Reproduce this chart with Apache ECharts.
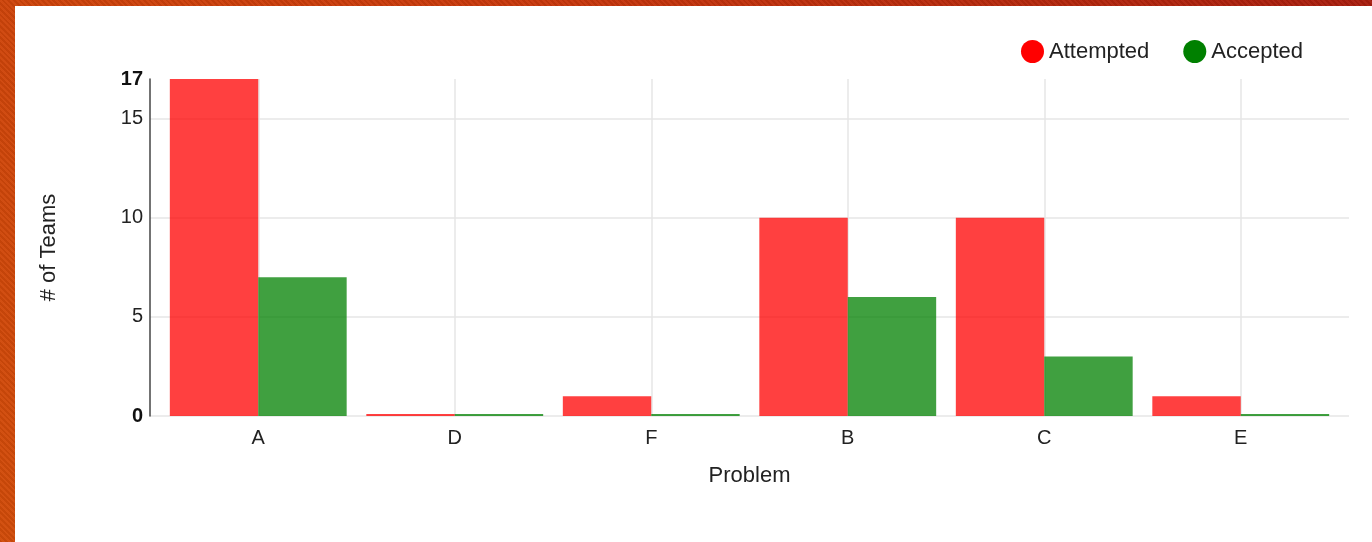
<!DOCTYPE html>
<html>
<head>
<meta charset="utf-8">
<script src="https://cdn.jsdelivr.net/npm/echarts@6/dist/echarts.min.js"></script>
<style>
html,body{margin:0;padding:0;}
body{width:1372px;height:542px;overflow:hidden;position:relative;
  background:linear-gradient(60deg,#d24c0a 0%,#c8380c 50%,#a81d0e 100%);}
body::before{content:"";position:absolute;left:0;top:0;width:100%;height:100%;
  background:repeating-linear-gradient(45deg,rgba(0,0,0,0.06) 0 2px,rgba(255,255,255,0.03) 2px 4px);}
#wrap{position:absolute;left:15px;top:6px;right:0;bottom:0;background:#fff;}
#chart{position:absolute;left:-15px;top:-6px;width:1372px;height:542px;}
</style>
</head>
<body>
<div id="wrap"><div id="chart"></div></div>
<script>
const categories = ['A', 'D', 'F', 'B', 'C', 'E'];
const attempted = [17, 0, 1, 10, 10, 1];
const accepted = [7, 0, 0, 6, 3, 0];
const yTicks = [0, 5, 10, 15, 17];

const font = 'Liberation Sans, Arial, sans-serif';
const chart = echarts.init(document.getElementById('chart'), null, {renderer: 'canvas'});
const gridLineColor = '#e6e6e6';

chart.setOption({
  animation: false,
  legend: {
    right: 64, top: 35,
    icon: 'circle', itemWidth: 23, itemHeight: 23, itemGap: 34,
    textStyle: {fontFamily: font, fontSize: 22, color: '#222'},
    data: [
      {name: 'Attempted', itemStyle: {color: '#ff0000'}},
      {name: 'Accepted', itemStyle: {color: '#008000'}}
    ]
  },
  grid: [
    {left: 150, right: 23, top: 79, bottom: 126},
    {left: 160, right: 33, top: 79, bottom: 126}
  ],
  xAxis: [
    {gridIndex: 0, type: 'value', min: 0, max: 1, show: false},
    {gridIndex: 1, type: 'category', data: categories, boundaryGap: true,
     axisLine: {show: false}, axisTick: {show: false}, splitLine: {show: false},
     axisLabel: {fontFamily: font, fontSize: 20, color: '#222', margin: 12},
     name: 'Problem', nameLocation: 'middle', nameGap: 49,
     nameTextStyle: {fontFamily: font, fontSize: 22, color: '#222'}}
  ],
  yAxis: [
    {gridIndex: 0, type: 'value', min: 0, max: 17, interval: 5,
     axisLine: {show: true, lineStyle: {color: '#444', width: 1.5}},
     axisTick: {show: false},
     splitLine: {show: true, lineStyle: {color: [gridLineColor, gridLineColor, gridLineColor, gridLineColor, 'rgba(0,0,0,0)'], width: 1.5}},
     axisLabel: {
       margin: 7, fontFamily: font, fontSize: 20, color: '#222',
       formatter: function (v) {
         return (v === yTicks[0] || v === yTicks[yTicks.length - 1]) ? '{b|' + v + '}' : String(v);
       },
       rich: {b: {fontFamily: font, fontSize: 20, fontWeight: 'bold', color: '#111'}}
     },
     name: '# of Teams', nameLocation: 'middle', nameGap: 90,
     nameTextStyle: {fontFamily: font, fontSize: 22, color: '#222'}},
    {gridIndex: 1, type: 'value', min: 0, max: 17, show: false, splitLine: {show: false}}
  ],
  series: [
    {
      name: 'grid', type: 'line', xAxisIndex: 1, yAxisIndex: 1, data: [], z: 0,
      silent: true,
      markLine: {
        silent: true, symbol: 'none', z: 0,
        label: {show: false},
        lineStyle: {color: gridLineColor, width: 1.5, type: 'solid'},
        data: categories.map(c => ({xAxis: c}))
      }
    },
    {
      name: 'Attempted', type: 'bar', xAxisIndex: 1, yAxisIndex: 1, data: attempted,
      barGap: '0%', barCategoryGap: '10%', barMinHeight: 2, z: 3,
      itemStyle: {color: 'rgba(255,0,0,0.75)'}
    },
    {
      name: 'Accepted', type: 'bar', xAxisIndex: 1, yAxisIndex: 1, data: accepted,
      barGap: '0%', barCategoryGap: '10%', barMinHeight: 2, z: 3,
      itemStyle: {color: 'rgba(0,128,0,0.75)'}
    }
  ]
});
</script>
</body>
</html>
